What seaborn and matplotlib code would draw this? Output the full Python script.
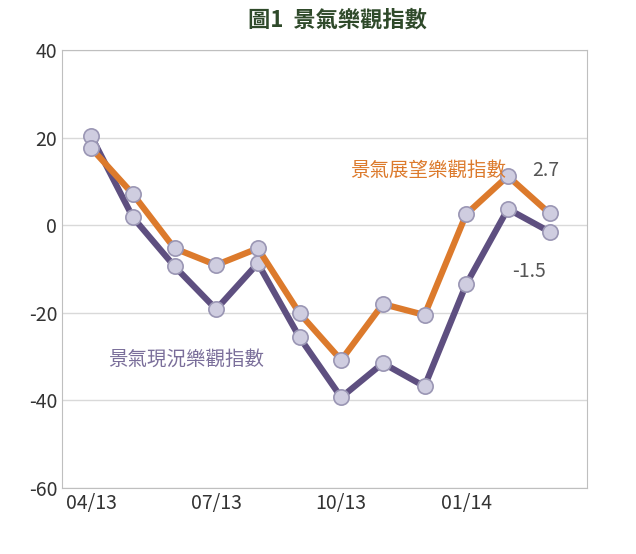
import numpy as np
import pandas as pd
import matplotlib
matplotlib.use("Agg")
import matplotlib.pyplot as plt
import seaborn as sns

# ── Data ──────────────────────────────────────────────────────────────────────
months  = ["04/13", "05/13", "06/13", "07/13", "08/13", "09/13",
           "10/13", "11/13", "12/13", "01/14", "02/14", "03/14"]
current = [20.3, 1.8, -9.4, -19.2, -8.7, -25.6, -39.3, -31.5, -36.8, -13.5, 3.7, -1.5]
outlook = [17.6, 7.1, -5.3, -9.1, -5.3, -20.1, -30.8, -18.0, -20.5, 2.5, 11.2, 2.7]
tick_labels = ["04/13", "07/13", "10/13", "01/14"]

sns.set_style("white")
plt.rcParams['font.family'] = ['Noto Sans CJK TC', 'DejaVu Sans']
plt.rcParams['axes.unicode_minus'] = False

df = pd.DataFrame({"x": np.arange(len(months)), "current": current, "outlook": outlook})

fig, ax = plt.subplots(figsize=(6.36, 5.54), dpi=100)
fig.subplots_adjust(left=0.0975, right=0.923, top=0.91, bottom=0.119)

PURPLE = "#5E4F80"
ORANGE = "#DC7A2C"
mk = dict(marker="o", markersize=11, markerfacecolor="#CFCDE0",
          markeredgecolor="#9A96B4", markeredgewidth=1.2)

sns.lineplot(data=df, x="x", y="current", ax=ax, color=PURPLE, lw=4.5, **mk)
sns.lineplot(data=df, x="x", y="outlook", ax=ax, color=ORANGE, lw=4.5, **mk)

ax.set_ylim(-60, 40)
ax.set_yticks(range(-60, 41, 20))
ax.set_xlim(-0.7, 11.9)
ax.set_xticks([months.index(t) for t in tick_labels])
ax.set_xticklabels(tick_labels)
ax.set_xlabel("")
ax.set_ylabel("")
ax.tick_params(labelsize=14, colors="#333333", length=0)
ax.yaxis.grid(True, color="#D9D9D9", lw=1)
for s in ax.spines.values():
    s.set_color("#BFBFBF")

ax.text(9.95, 12.5, "景氣展望樂觀指數", color=ORANGE, fontsize=14, ha="right", va="center")
ax.text(10.9, 12.5, "2.7", color="#555555", fontsize=14, ha="center", va="center")
ax.text(10.5, -10.5, "-1.5", color="#555555", fontsize=14, ha="center", va="center")
ax.text(0.4, -30.5, "景氣現況樂觀指數", color="#7A6E9A", fontsize=14, ha="left", va="center")

fig.suptitle("圖1  景氣樂觀指數", fontsize=16, fontweight="bold", color="#2F4A2A",
             x=0.53, y=0.985)

fig.savefig("out.png", dpi=100)
